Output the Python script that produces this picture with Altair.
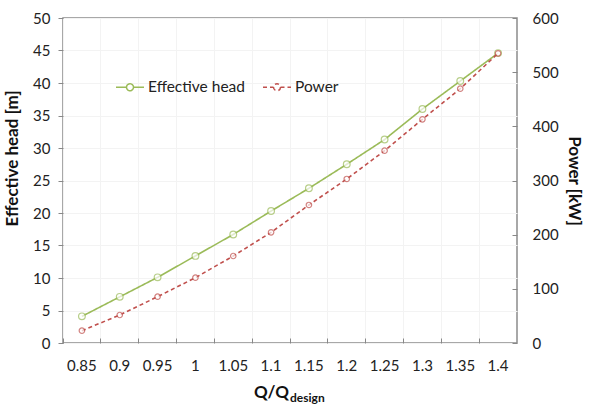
import altair as alt
import pandas as pd

# Flow ratio categories and measured series
ratio = ["0.85", "0.9", "0.95", "1", "1.05", "1.1", "1.15", "1.2", "1.25", "1.3", "1.35", "1.4"]
head_m = [4.1, 7.1, 10.1, 13.4, 16.7, 20.3, 23.8, 27.5, 31.3, 36.0, 40.3, 44.6]
power_kw = [22.7, 51.7, 85.5, 120.6, 160.6, 204.3, 254.8, 302.8, 355.0, 413.0, 469.5, 534.8]

GREEN = "#9bbb59"
RED = "#c0504d"
FONT = "Lato"
LABEL_SIZE = 15

df = pd.DataFrame({"ratio": ratio, "head": head_m, "power": power_kw})

x_enc = alt.X(
    "ratio:O",
    sort=ratio,
    bandPosition=0.5,
    scale=alt.Scale(type="band", paddingInner=0, paddingOuter=0),
    axis=alt.Axis(
        title=None,
        bandPosition=0,
        labelAngle=0,
        labelFontSize=LABEL_SIZE,
        labelFont=FONT,
        labelColor="#222",
        labelPadding=15,
        tickSize=5,
        tickColor="#888",
        offset=-5,
        domain=False,
        grid=True,
        gridColor="#f3f3f3",
    ),
)

legend_cfg = dict(
    title=None,
    orient="none",
    legendX=52,
    legendY=54,
    direction="horizontal",
    symbolType="M-1,0H-0.25M0.25,0H1M0.25,0A0.25,0.25 0 1,1 -0.25,0A0.25,0.25 0 1,1 0.25,0",
    symbolSize=784,
    symbolStrokeWidth=1.5,
    labelFontSize=15.5,
    labelFont=FONT,
    labelColor="#222",
    labelOffset=3,
    columnPadding=15,
)

series_color = alt.Color(
    "series:N",
    scale=alt.Scale(domain=["Effective head", "Power"], range=[GREEN, RED]),
    legend=alt.Legend(**legend_cfg),
)
series_dash = alt.StrokeDash(
    "series:N",
    scale=alt.Scale(domain=["Effective head", "Power"], range=[[1, 0], [4, 3]]),
    legend=alt.Legend(**legend_cfg),
)

head_base = alt.Chart(df).transform_calculate(series="'Effective head'")
power_base = alt.Chart(df).transform_calculate(series="'Power'")

y_left = alt.Y(
    "head:Q",
    scale=alt.Scale(domain=[0, 50]),
    axis=alt.Axis(
        title="Effective head [m]",
        titleFont=FONT,
        titleFontSize=17,
        titleFontWeight="bold",
        titleColor="#111",
        titleX=-51,
        titleY=140,
        titleAlign="center",
        titleBaseline="middle",
        values=list(range(0, 51, 5)),
        labelFontSize=LABEL_SIZE,
        labelFont=FONT,
        labelColor="#222",
        labelPadding=8,
        tickSize=5,
        tickColor="#888",
        domain=False,
        grid=True,
        gridColor="#f3f3f3",
    ),
)
y_right = alt.Y(
    "power:Q",
    scale=alt.Scale(domain=[0, 600]),
    axis=alt.Axis(
        orient="right",
        title="Power [kW]",
        titleFont=FONT,
        titleFontSize=17,
        titleFontWeight="bold",
        titleColor="#111",
        titlePadding=6,
        values=list(range(0, 601, 100)),
        labelFontSize=LABEL_SIZE,
        labelFont=FONT,
        labelColor="#222",
        labelPadding=15,
        tickSize=5,
        tickColor="#888",
        offset=-5,
        domain=False,
        grid=False,
    ),
)

head_line = head_base.mark_line(strokeWidth=1.6).encode(
    x=x_enc, y=y_left, color=series_color, strokeDash=series_dash
)
head_pts = head_base.mark_point(
    shape="circle", size=45, filled=True, fill="white", stroke=GREEN, strokeWidth=1.2
).encode(x=x_enc, y=y_left)

power_line = power_base.mark_line(strokeWidth=1.6).encode(
    x=x_enc, y=y_right, color=series_color, strokeDash=series_dash
)
power_pts = power_base.mark_point(
    shape="circle", size=30, filled=True, fill="white", stroke=RED, strokeWidth=1.2
).encode(x=x_enc, y=y_right)

# Axis title with subscript, placed below the category labels
xt_main = alt.Chart(pd.DataFrame({"t": ["Q/Q"]})).mark_text(
    font=FONT, fontSize=17, fontWeight="bold", color="#111", align="right", baseline="alphabetic"
).encode(text="t:N", x=alt.value(226), y=alt.value(380))
xt_sub = alt.Chart(pd.DataFrame({"t": ["design"]})).mark_text(
    font=FONT, fontSize=12, fontWeight="bold", color="#111", align="left", baseline="alphabetic"
).encode(text="t:N", x=alt.value(227), y=alt.value(384))

left = alt.layer(head_line, head_pts)
right = alt.layer(power_line, power_pts)

chart = (
    alt.layer(left, right, xt_main, xt_sub)
    .resolve_scale(y="independent")
    .properties(
        width=454,
        height=325,
        autosize=alt.AutoSizeParams(type="none"),
        padding={"left": 63, "top": 18, "right": 74, "bottom": 63},
        background="white",
    )
    .configure_view(stroke="#8c8c8c", strokeWidth=1.5)
)

chart.save("out.html", embed_options={"renderer": "svg", "actions": False})
